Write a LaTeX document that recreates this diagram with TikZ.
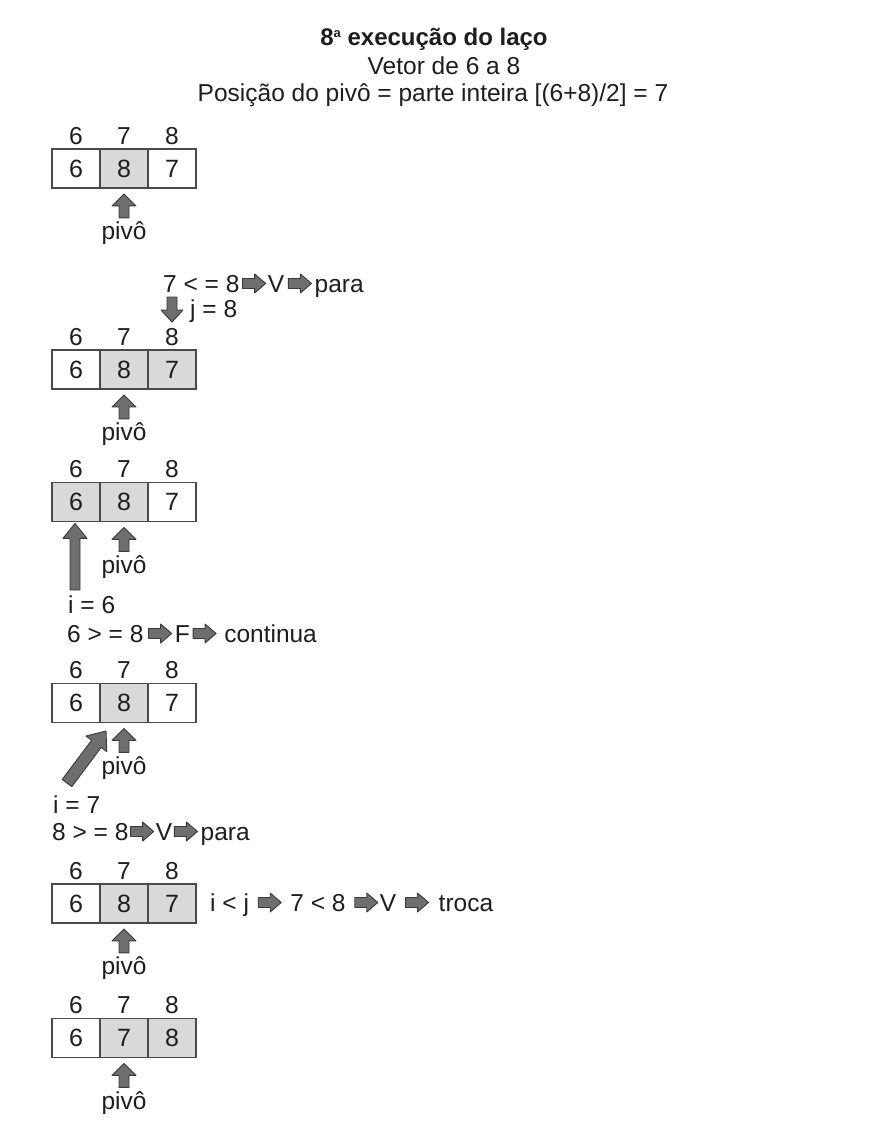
\documentclass[tikz,border=0pt]{standalone}
\usepackage{fontspec}
\setmainfont{Liberation Sans}
\usetikzlibrary{calc}

\definecolor{cellline}{HTML}{4A4A4A}
\definecolor{cellfill}{HTML}{D9D9D9}
\definecolor{arrfill}{HTML}{6E6E6E}
\definecolor{arrline}{HTML}{3A3A3A}
\definecolor{ink}{HTML}{1E1E1E}

\tikzset{
  txt/.style={inner sep=0pt, text=ink, font=\fontsize{24.5}{29}\selectfont},
  titletxt/.style={inner sep=0pt, text=ink, font=\bfseries\fontsize{24}{29}\selectfont},
  cellbox/.style={draw=cellline, line width=1.8pt, minimum width=48pt, minimum height=39pt,
                  inner sep=0pt, text=ink, font=\fontsize{25}{30}\selectfont},
  shaded/.style={fill=cellfill},
  plain/.style={fill=white},
  fat/.style={fill=arrfill, draw=arrline, line width=0.9pt, line join=round}
}

% fat arrow polygon: tail #1, tip #2, shaft half width #3, head half width #4, head length #5
\newcommand\drawfatarrow[5]{%
  \coordinate (fa-h) at ($(#2)!#5!(#1)$);
  \draw[fat] ($(#1)!#3!90:(#2)$) -- ($(fa-h)!#3!90:(#2)$) -- ($(fa-h)!#4!90:(#2)$)
    -- (#2) -- ($(fa-h)!#4!-90:(#2)$) -- ($(fa-h)!#3!-90:(#2)$)
    -- ($(#1)!#3!-90:(#2)$) -- cycle;
}

% inline right arrow after text node #2, with gap #3, named #1
\newcommand\inarrow[3]{%
  \coordinate (#1t) at ($(#2.base east)+(#3,-8.5)$);
  \coordinate (#1h) at ($(#1t)+(23,0)$);
  \drawfatarrow{#1t}{#1h}{5pt}{9.5pt}{11pt}
}

% array of three cells with indices, pivot arrow and label
\newcommand\vetor[8]{%
  \node[cellbox,#6] (#1a) at (76,#2) {#3};
  \node[cellbox,#7] (#1b) at (124,#2) {#4};
  \node[cellbox,#8] (#1c) at (172,#2) {#5};
  \node[txt,anchor=base] (#1ia) at ($(#1a.north)+(0,-4)$) {6};
  \node[txt,anchor=base] (#1ib) at ($(#1b.north)+(0,-4)$) {7};
  \node[txt,anchor=base] (#1ic) at ($(#1c.north)+(0,-4)$) {8};
  \coordinate (#1pt) at ($(#1b.south)+(0,29)$);
  \coordinate (#1pp) at ($(#1b.south)+(0,5)$);
  \drawfatarrow{#1pt}{#1pp}{5pt}{12pt}{12pt}
  \node[txt,anchor=base] (#1pl) at ($(#1b.south)+(0,51)$) {pivô};
}

\begin{document}
\begin{tikzpicture}[x=1pt,y=-1pt]
\useasboundingbox[fill=white] (0,0) rectangle (870,1126);

% titles
\node[titletxt,anchor=base] (title) at (434,46) {8\raisebox{8pt}{\fontsize{13}{13}\selectfont a} execução do laço};
\node[txt,anchor=base] (sub) at (444,75) {Vetor de 6 a 8};
\node[txt,anchor=base] (pos) at (433,102) {Posição do pivô = parte inteira [(6+8)/2] = 7};

% 1
\vetor{A}{168.5}{6}{8}{7}{plain}{shaded}{plain}

% 2
\node[txt,anchor=base west] (s2a) at (163,292) {7 < = 8};
\inarrow{s2r1}{s2a}{3}
\node[txt,anchor=base west] (s2b) at ($(s2r1h |- s2a.base)+(2,0)$) {V};
\inarrow{s2r2}{s2b}{4}
\node[txt,anchor=base west] (s2c) at ($(s2r2h |- s2a.base)+(3,0)$) {para};
\coordinate (s2dt) at (172,297);
\coordinate (s2dh) at (172,322);
\drawfatarrow{s2dt}{s2dh}{5pt}{11pt}{12pt}
\node[txt,anchor=base west] (s2j) at (190,317) {j = 8};

\vetor{B}{369.5}{6}{8}{7}{plain}{shaded}{shaded}

% 3
\vetor{C}{502}{6}{8}{7}{shaded}{shaded}{plain}
\node[txt,anchor=base west] (s3i) at (68,613) {i = 6};
\coordinate (s3tail) at (75,590);
\coordinate (s3tip) at ($(Ca.south)+(-1,1)$);
\drawfatarrow{s3tail}{s3tip}{5pt}{12pt}{15pt}
\node[txt,anchor=base west] (s3a) at (67,642) {6 > = 8};
\inarrow{s3r1}{s3a}{5}
\node[txt,anchor=base west] (s3b) at ($(s3r1h |- s3a.base)+(3,0)$) {F};
\inarrow{s3r2}{s3b}{3}
\node[txt,anchor=base west] (s3c) at ($(s3r2h |- s3a.base)+(8,0)$) {continua};

% 4
\vetor{D}{703}{6}{8}{7}{plain}{shaded}{plain}
\coordinate (s4tail) at (67,783);
\coordinate (s4tip) at (106,731);
\drawfatarrow{s4tail}{s4tip}{6pt}{13pt}{16pt}
\node[txt,anchor=base west] (s4i) at (53,813) {i = 7};
\node[txt,anchor=base west] (s4a) at (52,840) {8 > = 8};
\inarrow{s4r1}{s4a}{2}
\node[txt,anchor=base west] (s4b) at ($(s4r1h |- s4a.base)+(2,0)$) {V};
\inarrow{s4r2}{s4b}{2}
\node[txt,anchor=base west] (s4c) at ($(s4r2h |- s4a.base)+(3,0)$) {para};

% 5
\vetor{E}{903.5}{6}{8}{7}{plain}{shaded}{shaded}
\node[txt,anchor=base west] (s5a) at (210,911) {i < j};
\inarrow{s5r1}{s5a}{9}
\node[txt,anchor=base west] (s5b) at ($(s5r1h |- s5a.base)+(9,0)$) {7 < 8};
\inarrow{s5r2}{s5b}{9}
\node[txt,anchor=base west] (s5c) at ($(s5r2h |- s5a.base)+(2,0)$) {V};
\inarrow{s5r3}{s5c}{9}
\node[txt,anchor=base west] (s5d) at ($(s5r3h |- s5a.base)+(10,0)$) {troca};

% 6
\vetor{F}{1038}{6}{7}{8}{plain}{shaded}{shaded}
\end{tikzpicture}
\end{document}
